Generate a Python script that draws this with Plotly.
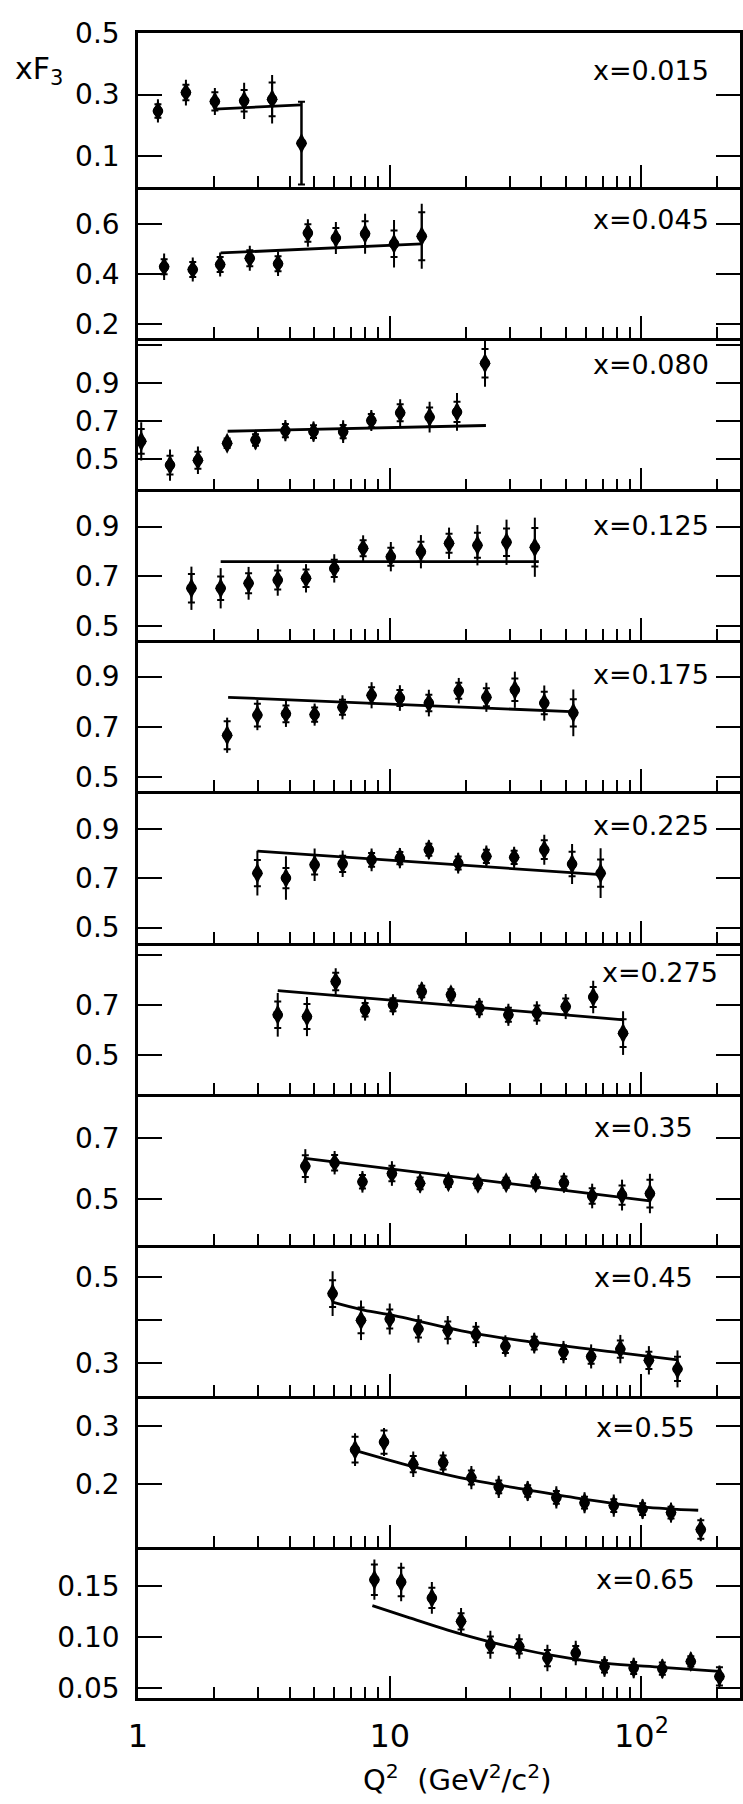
import plotly.graph_objects as go

# ---------------------------------------------------------------- data
x_bins = ["0.015", "0.045", "0.080", "0.125", "0.175", "0.225",
          "0.275", "0.35", "0.45", "0.55", "0.65"]

q2_015 = [1.20, 1.55, 2.02, 2.64, 3.41, 4.46]
xf3_015 = [0.247, 0.307, 0.278, 0.280, 0.285, 0.142]
tot_015 = [0.038, 0.042, 0.044, 0.059, 0.079, 0.135]
stat_015 = [0.022, 0.025, 0.030, 0.035, 0.055, 0.135]
fitq_015 = [2.02, 4.46]
fity_015 = [0.253, 0.267]

q2_045 = [1.27, 1.65, 2.12, 2.78, 3.60, 4.73, 6.11, 7.98, 10.4, 13.4]
xf3_045 = [0.428, 0.417, 0.437, 0.462, 0.440, 0.563, 0.543, 0.560, 0.520, 0.550]
tot_045 = [0.053, 0.048, 0.048, 0.050, 0.049, 0.055, 0.064, 0.080, 0.095, 0.130]
stat_045 = [0.030, 0.030, 0.030, 0.032, 0.030, 0.035, 0.040, 0.050, 0.053, 0.096]
fitq_045 = [2.13, 13.4]
fity_045 = [0.483, 0.519]

q2_080 = [1.03, 1.34, 1.73, 2.26, 2.93, 3.85, 4.98, 6.53, 8.45, 11.0, 14.4, 18.5, 23.9]
xf3_080 = [0.593, 0.469, 0.494, 0.583, 0.600, 0.649, 0.644, 0.644, 0.702, 0.743, 0.720, 0.747, 1.002]
tot_080 = [0.100, 0.082, 0.072, 0.040, 0.048, 0.056, 0.053, 0.059, 0.055, 0.071, 0.081, 0.099, 0.123]
stat_080 = [0.065, 0.049, 0.045, 0.025, 0.030, 0.035, 0.033, 0.035, 0.035, 0.045, 0.050, 0.053, 0.075]
fitq_080 = [2.27, 24.1]
fity_080 = [0.646, 0.676]

q2_125 = [1.63, 2.13, 2.75, 3.59, 4.65, 6.02, 7.84, 10.1, 13.3, 17.2, 22.3, 29.1, 37.7]
xf3_125 = [0.652, 0.652, 0.672, 0.685, 0.692, 0.732, 0.813, 0.779, 0.799, 0.833, 0.825, 0.837, 0.817]
tot_125 = [0.087, 0.081, 0.066, 0.063, 0.057, 0.057, 0.052, 0.059, 0.067, 0.063, 0.081, 0.091, 0.119]
stat_125 = [0.057, 0.047, 0.040, 0.038, 0.035, 0.035, 0.032, 0.036, 0.040, 0.038, 0.050, 0.055, 0.077]
fitq_125 = [2.13, 39.1]
fity_125 = [0.759, 0.759]

q2_175 = [2.26, 2.98, 3.87, 5.03, 6.49, 8.47, 10.97, 14.3, 18.8, 24.2, 31.4, 41.1, 53.6]
xf3_175 = [0.667, 0.747, 0.752, 0.749, 0.778, 0.826, 0.815, 0.795, 0.844, 0.818, 0.848, 0.795, 0.756]
tot_175 = [0.070, 0.060, 0.052, 0.044, 0.048, 0.052, 0.051, 0.053, 0.051, 0.058, 0.072, 0.070, 0.093]
stat_175 = [0.056, 0.045, 0.033, 0.028, 0.030, 0.032, 0.032, 0.033, 0.032, 0.036, 0.045, 0.045, 0.054]
fitq_175 = [2.28, 55.4]
fity_175 = [0.818, 0.760]

q2_225 = [2.98, 3.87, 5.03, 6.50, 8.47, 10.97, 14.3, 18.7, 24.2, 31.2, 41.1, 53.0, 68.8]
xf3_225 = [0.721, 0.701, 0.755, 0.759, 0.775, 0.782, 0.816, 0.762, 0.789, 0.785, 0.816, 0.758, 0.721]
tot_225 = [0.091, 0.088, 0.066, 0.054, 0.046, 0.041, 0.038, 0.042, 0.044, 0.043, 0.061, 0.081, 0.101]
stat_225 = [0.053, 0.041, 0.040, 0.033, 0.028, 0.025, 0.024, 0.026, 0.027, 0.027, 0.038, 0.050, 0.055]
fitq_225 = [2.98, 68.8]
fity_225 = [0.810, 0.715]

q2_275 = [3.59, 4.69, 6.10, 7.98, 10.3, 13.4, 17.5, 22.7, 29.6, 38.4, 50.0, 64.3, 84.5]
xf3_275 = [0.660, 0.653, 0.793, 0.680, 0.700, 0.753, 0.740, 0.687, 0.660, 0.667, 0.693, 0.731, 0.587]
tot_275 = [0.087, 0.078, 0.053, 0.043, 0.042, 0.037, 0.035, 0.040, 0.044, 0.047, 0.050, 0.065, 0.087]
stat_275 = [0.053, 0.050, 0.035, 0.027, 0.026, 0.023, 0.022, 0.025, 0.028, 0.030, 0.032, 0.040, 0.055]
fitq_275 = [3.59, 85.0]
fity_275 = [0.757, 0.640]

q2_35 = [4.62, 6.04, 7.79, 10.2, 13.2, 17.1, 22.4, 29.0, 38.0, 49.2, 63.7, 83.7, 108]
xf3_35 = [0.608, 0.619, 0.557, 0.584, 0.552, 0.557, 0.552, 0.554, 0.554, 0.554, 0.511, 0.514, 0.519]
tot_35 = [0.055, 0.038, 0.035, 0.040, 0.030, 0.027, 0.026, 0.026, 0.028, 0.032, 0.040, 0.050, 0.064]
stat_35 = [0.035, 0.025, 0.022, 0.025, 0.019, 0.017, 0.016, 0.016, 0.018, 0.020, 0.025, 0.031, 0.045]
fitq_35 = [4.62, 108]
fity_35 = [0.633, 0.495]

q2_45 = [5.93, 7.69, 10.0, 13.0, 17.0, 22.0, 28.8, 37.5, 49.0, 63.1, 82.4, 107, 139]
xf3_45 = [0.462, 0.400, 0.403, 0.380, 0.377, 0.367, 0.340, 0.347, 0.326, 0.316, 0.333, 0.307, 0.287]
tot_45 = [0.052, 0.046, 0.036, 0.032, 0.033, 0.029, 0.025, 0.024, 0.026, 0.028, 0.033, 0.033, 0.043]
stat_45 = [0.031, 0.030, 0.022, 0.020, 0.020, 0.018, 0.016, 0.015, 0.016, 0.017, 0.020, 0.020, 0.028]
fitq_45 = [5.93, 7.69, 10.0, 22.0, 37.5, 82.4, 139]
fity_45 = [0.442, 0.425, 0.413, 0.369, 0.349, 0.324, 0.308]

q2_55 = [7.28, 9.49, 12.4, 16.3, 21.1, 27.1, 35.3, 45.9, 59.4, 77.6, 101, 131, 172]
xf3_55 = [0.259, 0.272, 0.234, 0.237, 0.211, 0.195, 0.188, 0.177, 0.168, 0.163, 0.157, 0.151, 0.122]
tot_55 = [0.028, 0.024, 0.022, 0.019, 0.020, 0.019, 0.017, 0.019, 0.018, 0.019, 0.017, 0.017, 0.020]
stat_55 = [0.022, 0.020, 0.014, 0.012, 0.012, 0.011, 0.010, 0.011, 0.010, 0.011, 0.010, 0.010, 0.016]
fitq_55 = [7.39, 12.4, 21.1, 35.3, 59.4, 101, 168]
fity_55 = [0.257, 0.230, 0.207, 0.190, 0.174, 0.161, 0.155]

q2_65 = [8.69, 11.1, 14.7, 19.2, 25.1, 32.7, 42.3, 54.8, 71.3, 93.1, 121, 157, 204]
xf3_65 = [0.1566, 0.1543, 0.1386, 0.1156, 0.0926, 0.0909, 0.0795, 0.0844, 0.0713, 0.0697, 0.0690, 0.0762, 0.0614]
tot_65 = [0.0197, 0.0190, 0.0156, 0.0130, 0.0138, 0.0120, 0.0130, 0.0120, 0.0103, 0.0100, 0.0094, 0.0088, 0.0107]
stat_65 = [0.015, 0.014, 0.010, 0.008, 0.008, 0.007, 0.008, 0.007, 0.006, 0.006, 0.006, 0.005, 0.009]
fitq_65 = [8.53, 12.0, 17.0, 25.0, 42.0, 71.0, 121, 204]
fity_65 = [0.131, 0.119, 0.107, 0.0955, 0.083, 0.0746, 0.0703, 0.0663]

# labelled y ticks, and extra unlabelled ones, of each panel
ytick_vals = [[0.1, 0.3, 0.5], [0.2, 0.4, 0.6], [0.5, 0.7, 0.9], [0.5, 0.7, 0.9],
              [0.5, 0.7, 0.9], [0.5, 0.7, 0.9], [0.5, 0.7], [0.5, 0.7],
              [0.3, 0.5], [0.2, 0.3], [0.05, 0.10, 0.15]]
ytick_text = [["0.1", "0.3", "0.5"], ["0.2", "0.4", "0.6"], ["0.5", "0.7", "0.9"],
              ["0.5", "0.7", "0.9"], ["0.5", "0.7", "0.9"], ["0.5", "0.7", "0.9"],
              ["0.5", "0.7"], ["0.5", "0.7"], ["0.3", "0.5"], ["0.2", "0.3"],
              ["0.05", "0.10", "0.15"]]
ytick_plain = [[], [], [1.1], [], [], [], [0.9], [], [0.4], [], []]

xtick_vals = [1, 10, 100]
xtick_text = ["1", "10", "10<sup>2</sup>"]
xminor_vals = [2, 3, 4, 5, 6, 7, 8, 9, 20, 30, 40, 50, 60, 70, 80, 90, 200]

panels = [
    (q2_015, xf3_015, tot_015, stat_015, fitq_015, fity_015),
    (q2_045, xf3_045, tot_045, stat_045, fitq_045, fity_045),
    (q2_080, xf3_080, tot_080, stat_080, fitq_080, fity_080),
    (q2_125, xf3_125, tot_125, stat_125, fitq_125, fity_125),
    (q2_175, xf3_175, tot_175, stat_175, fitq_175, fity_175),
    (q2_225, xf3_225, tot_225, stat_225, fitq_225, fity_225),
    (q2_275, xf3_275, tot_275, stat_275, fitq_275, fity_275),
    (q2_35, xf3_35, tot_35, stat_35, fitq_35, fity_35),
    (q2_45, xf3_45, tot_45, stat_45, fitq_45, fity_45),
    (q2_55, xf3_55, tot_55, stat_55, fitq_55, fity_55),
    (q2_65, xf3_65, tot_65, stat_65, fitq_65, fity_65),
]

# ---------------------------------------------------------------- layout geometry
W, H = 743, 1804
ML, MT, MB = 138, 33, 106
PH = H - MT - MB
PW = W - ML
DECADE = 253.0
XMAX = PW / DECADE

# panel edges, pixels from the top of the page
edges = [33.3, 186.7, 337.5, 489.3, 640, 791, 942.7, 1094, 1245, 1396, 1546.7, 1697.7]
y_ranges = [[0.0, 0.5], [0.145, 0.748], [0.342, 1.137], [0.444, 1.05], [0.445, 1.046],
            [0.439, 1.054], [0.344, 0.948], [0.352, 0.842], [0.224, 0.575],
            [0.0925, 0.351], [0.0405, 0.189]]
label_left_px = [593, 593, 593, 593, 593, 593, 602, 594, 594, 596, 596]
label_drop_px = [37, 33, 27, 36, 35, 34, 30, 33, 32, 31, 33]

FONT = "DejaVu Sans"
BLACK = "black"


def ypaper(px):
    return (MT + PH - px) / PH


fig = go.Figure()
layout = {}
annotations = []

for i, (q2, yv, tot, stat, fq, fy) in enumerate(panels):
    n = i + 1
    xa = "x" if n == 1 else f"x{n}"
    ya = "y" if n == 1 else f"y{n}"
    xkey = "xaxis" if n == 1 else f"xaxis{n}"
    ykey = "yaxis" if n == 1 else f"yaxis{n}"
    top, bot = edges[i], edges[i + 1]

    # fitted curve
    fig.add_trace(go.Scatter(
        x=fq, y=fy, xaxis=xa, yaxis=ya, mode="lines",
        line=dict(color=BLACK, width=2.8, shape="spline" if len(fq) > 2 else "linear"),
        showlegend=False, hoverinfo="skip"))
    # total error (plain bar) + point
    fig.add_trace(go.Scatter(
        x=q2, y=yv, xaxis=xa, yaxis=ya, mode="markers",
        marker=dict(symbol="circle", size=10.5, color=BLACK),
        error_y=dict(type="data", array=tot, visible=True, color=BLACK,
                     thickness=2, width=0),
        showlegend=False))
    # statistical error marked with small cross bars
    fig.add_trace(go.Scatter(
        x=q2, y=yv, xaxis=xa, yaxis=ya, mode="markers",
        marker=dict(symbol="diamond-tall", size=15, color=BLACK),
        error_y=dict(type="data", array=stat, visible=True, color=BLACK,
                     thickness=2, width=3.5),
        showlegend=False))

    layout[xkey] = dict(
        type="log", range=[0, XMAX], domain=[0, 1], anchor=ya,
        tickmode="array", tickvals=xtick_vals, ticktext=xtick_text,
        ticks="inside", ticklen=22, tickwidth=2, tickcolor=BLACK,
        showline=True, linewidth=2.5, linecolor=BLACK, mirror=(n == 1),
        showgrid=False, zeroline=False,
        showticklabels=(n == len(panels)),
        ticklabelstandoff=8,
        tickfont=dict(family=FONT, size=32, color=BLACK),
        minor=dict(tickmode="array", tickvals=xminor_vals, ticks="inside",
                   ticklen=11, tickwidth=2, tickcolor=BLACK, showgrid=False),
    )
    layout[ykey] = dict(
        domain=[ypaper(bot), ypaper(top)], range=y_ranges[i], anchor=xa,
        tickmode="array", tickvals=ytick_vals[i], ticktext=ytick_text[i],
        ticks="inside", ticklen=24, tickwidth=2, tickcolor=BLACK,
        showline=True, linewidth=2.5, linecolor=BLACK, mirror="ticks",
        showgrid=False, zeroline=False, ticklabelstandoff=10,
        tickfont=dict(family=FONT, size=28, color=BLACK),
        minor=dict(tickmode="array", tickvals=ytick_plain[i], ticks="inside",
                   ticklen=24, tickwidth=2, tickcolor=BLACK, showgrid=False),
    )
    annotations.append(dict(
        text=f"x={x_bins[i]}", xref="paper", yref="paper",
        x=(label_left_px[i] - ML) / PW, y=ypaper(top + label_drop_px[i]),
        xanchor="left", yanchor="middle", showarrow=False,
        font=dict(family=FONT, size=27, color=BLACK)))

annotations.append(dict(
    text="xF<sub>3</sub>", xref="paper", yref="paper",
    x=(12 - ML) / PW, y=ypaper(70), xanchor="left", yanchor="middle",
    showarrow=False, font=dict(family=FONT, size=30, color=BLACK)))
annotations.append(dict(
    text="Q<sup>2</sup>  (GeV<sup>2</sup>/c<sup>2</sup>)", xref="paper", yref="paper",
    x=(459 - ML) / PW, y=ypaper(1778), xanchor="center", yanchor="middle",
    showarrow=False, font=dict(family=FONT, size=29, color=BLACK)))

fig.update_layout(
    width=W, height=H,
    margin=dict(l=ML, r=0, t=MT, b=MB, pad=0),
    paper_bgcolor="white", plot_bgcolor="white",
    showlegend=False, annotations=annotations,
    **layout,
)

fig.write_html("out.html")
